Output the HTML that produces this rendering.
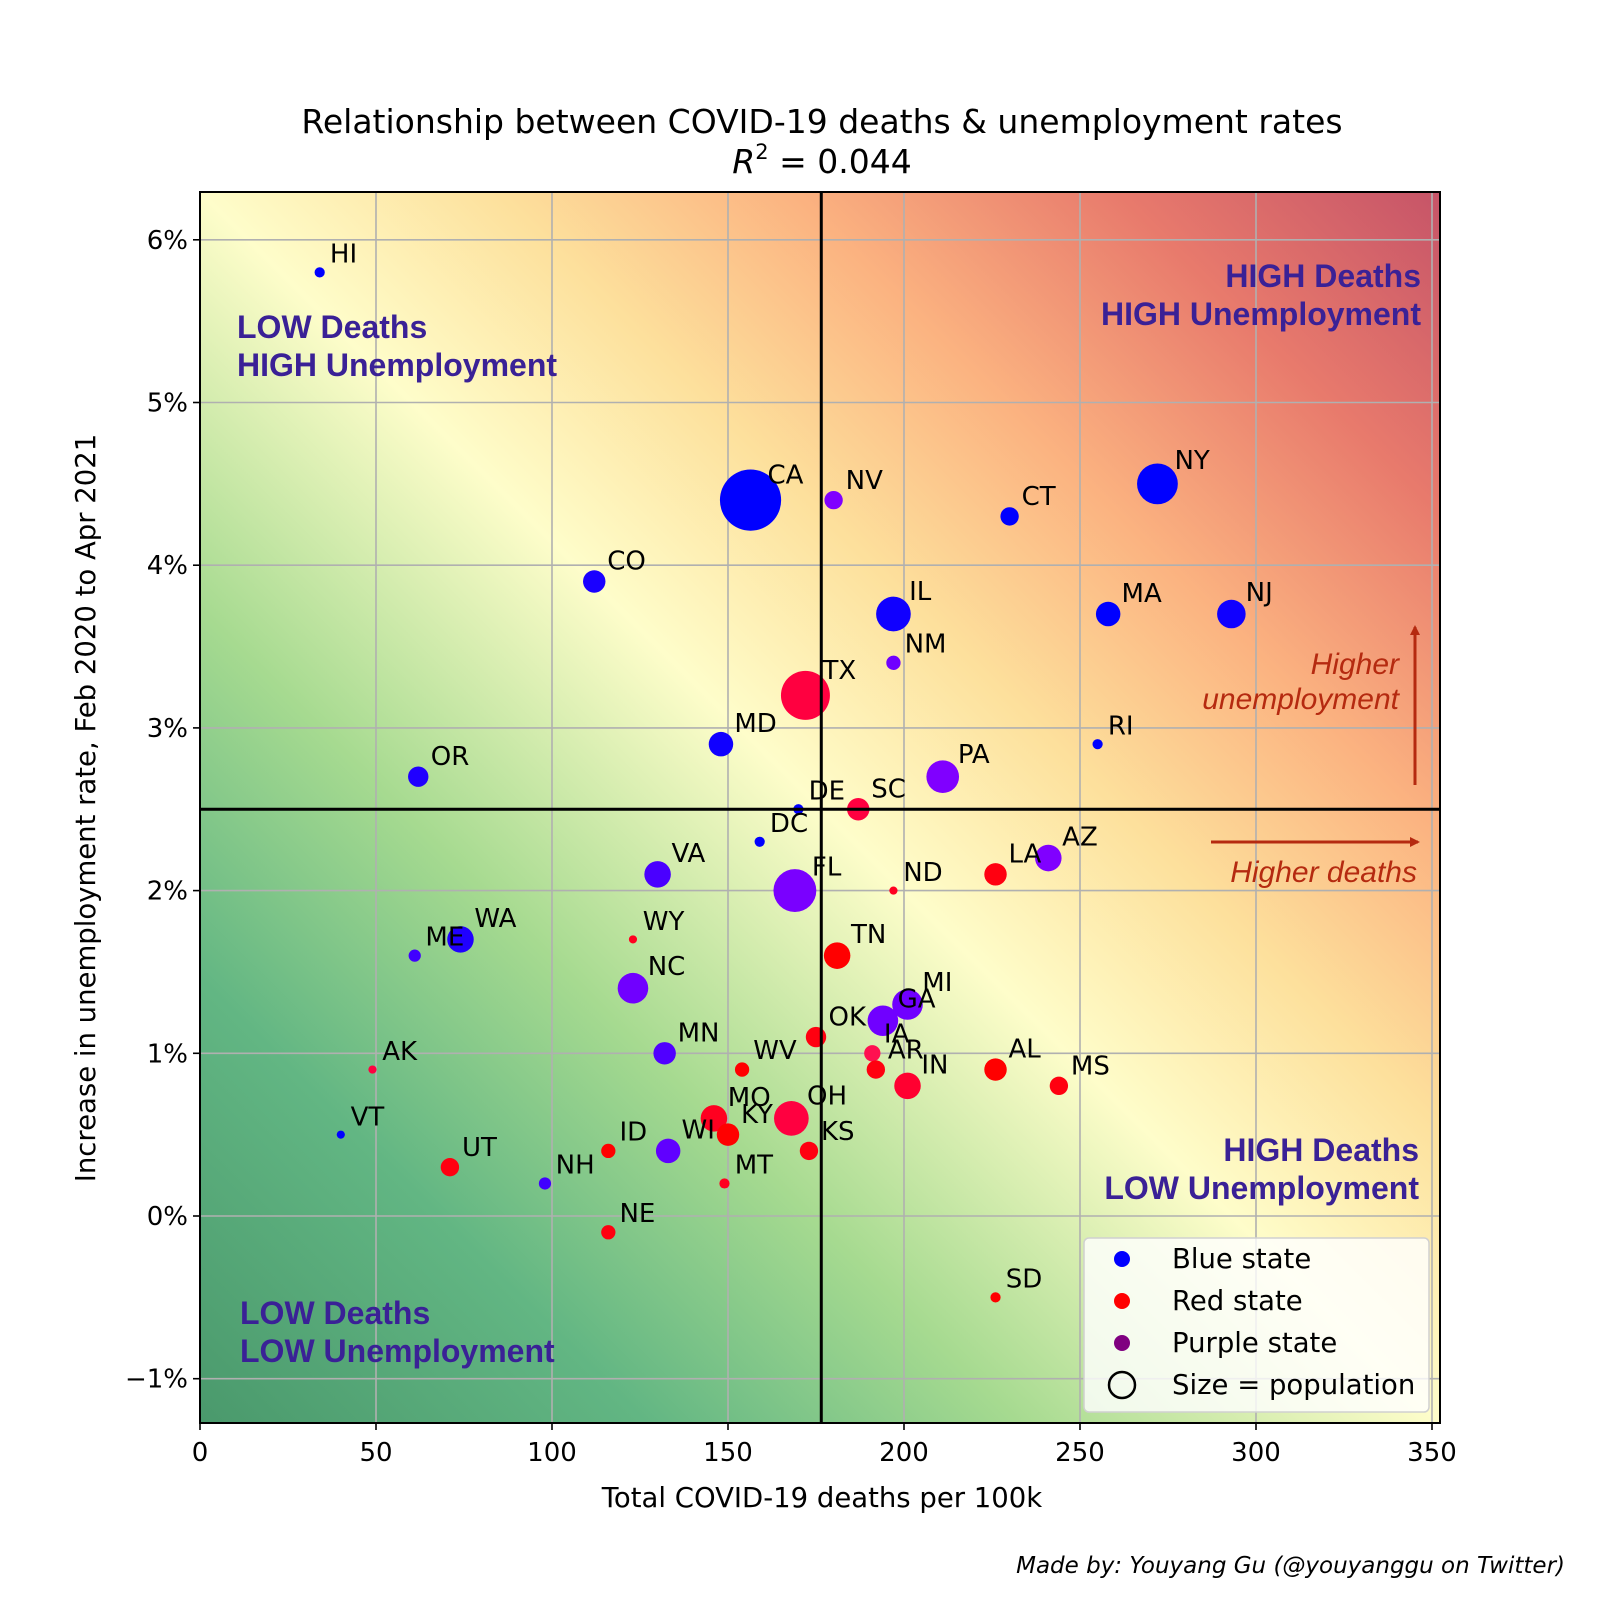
<!DOCTYPE html>
<html><head><meta charset="utf-8"><style>
html,body{margin:0;padding:0;background:#fff;}
svg{display:block;}
text{font-family:"DejaVu Sans","Liberation Sans",sans-serif;}
.q{font-family:"Liberation Sans",sans-serif;font-weight:bold;font-size:32px;fill:#3a2196;}
.an{font-family:"Liberation Sans",sans-serif;font-style:italic;font-size:30px;fill:#b52a10;}
</style></head><body>
<svg id="chart" width="1600" height="1600" viewBox="0 0 1600 1600" xmlns="http://www.w3.org/2000/svg">
<defs>
<linearGradient id="bg" x1="0" y1="1" x2="1" y2="0">
<stop offset="0" stop-color="#4a996c"/>
<stop offset="0.18" stop-color="#62b683"/>
<stop offset="0.33" stop-color="#a6da90"/>
<stop offset="0.5" stop-color="#fefdca"/>
<stop offset="0.62" stop-color="#fde09c"/>
<stop offset="0.74" stop-color="#fbb280"/>
<stop offset="0.87" stop-color="#e87a6c"/>
<stop offset="1" stop-color="#c65468"/>
</linearGradient>
<marker id="ah" markerWidth="10" markerHeight="10" refX="8" refY="5" orient="auto" markerUnits="userSpaceOnUse" viewBox="0 0 10 10"><path d="M0,0 L10,5 L0,10 z" fill="#b52a10"/></marker>
</defs>
<g id="plot"></g>
</svg>
<script>
const states=["HI","CA","NV","CO","CT","NY","IL","MA","NJ","NM","TX","MD","RI","OR","PA","DE","SC","DC","VA","FL","ND","LA","AZ","WY","WA","ME","TN","NC","MI","GA","OK","MN","IA","AK","WV","AR","AL","IN","MS","VT","MO","OH","KY","WI","KS","ID","UT","NH","MT","NE","SD"];
const deaths=[34,156.4,180,112,230,272,197,258,293,197,172,148,255,62,211,170,187,159,130,169,197,226,241,123,74,61,181,123,201,194,175,132,191,49,154,192,226,201,244,40,146,168,150,133,173,116,71,98,149,116,226];
const unemp=[5.8,4.4,4.4,3.9,4.3,4.5,3.7,3.7,3.7,3.4,3.2,2.9,2.9,2.7,2.7,2.5,2.5,2.3,2.1,2.0,2.0,2.1,2.2,1.7,1.7,1.6,1.6,1.4,1.3,1.2,1.1,1.0,1.0,0.9,0.9,0.9,0.9,0.8,0.8,0.5,0.6,0.6,0.5,0.4,0.4,0.4,0.3,0.2,0.2,-0.1,-0.5];
const sizes=[5,30,9,11,9,20,17,12,14,7,24,12,5,10,16,5,11,5,13,21,4,11,13,4,13,6,13,15,15,15,10,11,8,4,7,9,11,13,9,4,13,17,11,12,9,7,9,6,5,7,5];
const colors=["#0000ff","#0000ff","#8000ff","#1a00ff","#0000ff","#0000ff","#1000ff","#0000ff","#1000ff","#7000ff","#ff0040","#1000ff","#0000ff","#2000ff","#8000ff","#0000ff","#ff0040","#0000ff","#4a00ff","#7a00ff","#ff0020","#ff0010","#8000ff","#ff0020","#2000ff","#4000ff","#ff0000","#7000ff","#7000ff","#7000ff","#ff0010","#5000ff","#ff1050","#ff0040","#ff0000","#ff0010","#ff0000","#ff0030","#ff0010","#0000ff","#ff0020","#ff0040","#ff0000","#6000ff","#ff0010","#ff0000","#ff0010","#4000ff","#ff0020","#ff0010","#ff0000"];
const xTicks=[0,50,100,150,200,250,300,350];
const yTicks=[-1,0,1,2,3,4,5,6];
const yTickLabels=["\u22121%","0%","1%","2%","3%","4%","5%","6%"];
const splitX=176.5, splitY=2.5;

const L=200,R=1440,T=192,B=1423;
const xs=v=>L+v*3.52;
const ys=v=>1216-v*162.7;
const NS="http://www.w3.org/2000/svg";
const g=document.getElementById('plot');
function mk(tag,attrs,parent){const e=document.createElementNS(NS,tag);for(const k in attrs)e.setAttribute(k,attrs[k]);(parent||g).appendChild(e);return e;}

let e=mk('rect',{x:L,y:T,width:R-L,height:B-T,fill:'url(#bg)'});



xTicks.forEach((t,i)=>{
  let l=mk('line',{x1:xs(t),x2:xs(t),y1:T,y2:B,stroke:'#b0b0b0','stroke-width':1.6});
  
  
  let tk=mk('line',{x1:xs(t),x2:xs(t),y1:B,y2:B+7,stroke:'#000','stroke-width':1.6});
  
  
  let tx=mk('text',{x:xs(t),y:B+38,'text-anchor':'middle','font-size':26});
  tx.textContent=String(t);
  
  
});
yTicks.forEach((t,i)=>{
  let l=mk('line',{x1:L,x2:R,y1:ys(t),y2:ys(t),stroke:'#b0b0b0','stroke-width':1.6});
  
  
  let tk=mk('line',{x1:L-7,x2:L,y1:ys(t),y2:ys(t),stroke:'#000','stroke-width':1.6});
  
  
  let tx=mk('text',{x:L-12,y:ys(t)+9,'text-anchor':'end','font-size':26});
  tx.textContent=yTickLabels[i];
  
  
});

function qt(lines,x,y,anchor,name){
  const t=mk('text',{x:x,y:y,'text-anchor':anchor,class:'q'});
  
  
  lines.forEach((s,i)=>{const sp=mk('tspan',{x:x,dy:i?38:0},t);sp.textContent=s;});
}
qt(["LOW Deaths","HIGH Unemployment"],237,338,'start','quadrant-label-low-high');
qt(["HIGH Deaths","HIGH Unemployment"],1421,287,'end','quadrant-label-high-high');
qt(["HIGH Deaths","LOW Unemployment"],1419,1161,'end','quadrant-label-high-low');
qt(["LOW Deaths","LOW Unemployment"],240,1324,'start','quadrant-label-low-low');

states.forEach((s,i)=>{
  const cx=xs(deaths[i]),cy=ys(unemp[i]),r=sizes[i]*1.02;
  const c=mk('circle',{cx:cx,cy:cy,r:r,fill:colors[i]});
  
  
});
states.forEach((s,i)=>{
  const cx=xs(deaths[i]),cy=ys(unemp[i]),r=sizes[i];
  const t=mk('text',{x:cx+8+Math.min(r,20)*0.45,y:cy-8-Math.min(r,25)*0.35,'font-size':26});
  t.textContent=s;
  
  
});

e=mk('line',{x1:xs(splitX),x2:xs(splitX),y1:T,y2:B,stroke:'#000','stroke-width':3});


e=mk('line',{x1:L,x2:R,y1:ys(splitY),y2:ys(splitY),stroke:'#000','stroke-width':3});



e=mk('line',{x1:1415,y1:785,x2:1415,y2:627,stroke:'#b52a10','stroke-width':3,'marker-end':'url(#ah)'});


e=mk('line',{x1:1211,y1:842,x2:1418,y2:842,stroke:'#b52a10','stroke-width':3,'marker-end':'url(#ah)'});


e=mk('text',{class:'an','text-anchor':'end',x:1399,y:674});


let sp=mk('tspan',{x:1399,dy:0},e);sp.textContent='Higher';
sp=mk('tspan',{x:1399,dy:35},e);sp.textContent='unemployment';
e=mk('text',{class:'an','text-anchor':'end',x:1417,y:882});
e.textContent='Higher deaths';



e=mk('rect',{x:L,y:T,width:R-L,height:B-T,fill:'none',stroke:'#000','stroke-width':2});



const lg=mk('g',{});


mk('rect',{x:1084,y:1238,width:345,height:174,rx:5,fill:'#ffffff','fill-opacity':0.8,stroke:'#d0d0d0','stroke-width':1.5},lg);
const legNames=['Blue state','Red state','Purple state','Size = population'];
const legCols=['#0000ff','#ff0000','#800080','none'];
legNames.forEach((n,i)=>{
  const y=1259+i*42;
  const c=mk('circle',{cx:1122,cy:y,r:i<3?8:13,fill:legCols[i],stroke:i<3?'none':'#000','stroke-width':2.5},lg);
  
  
  const t=mk('text',{x:1172,y:y+9,'font-size':27.5},lg);
  t.textContent=n;
  
  
});

e=mk('text',{x:822,y:133,'text-anchor':'middle','font-size':33});
e.textContent='Relationship between COVID-19 deaths & unemployment rates';


e=mk('text',{x:822,y:173,'text-anchor':'middle','font-size':33});


sp=mk('tspan',{'font-style':'italic'},e);sp.textContent='R';
sp=mk('tspan',{'font-size':21,dy:-14},e);sp.textContent='2';
sp=mk('tspan',{dy:14},e);sp.textContent=' = 0.044';
e=mk('text',{x:822,y:1507,'text-anchor':'middle','font-size':27.5});
e.textContent='Total COVID-19 deaths per 100k';


e=mk('text',{x:0,y:0,'text-anchor':'middle','font-size':27.5,transform:'translate(95,808) rotate(-90)'});
e.textContent='Increase in unemployment rate, Feb 2020 to Apr 2021';


e=mk('text',{x:1565,y:1573,'text-anchor':'end','font-size':23,'font-style':'italic','font-family':'Liberation Sans, sans-serif'});
e.textContent='Made by: Youyang Gu (@youyanggu on Twitter)';


</script>
</body></html>
